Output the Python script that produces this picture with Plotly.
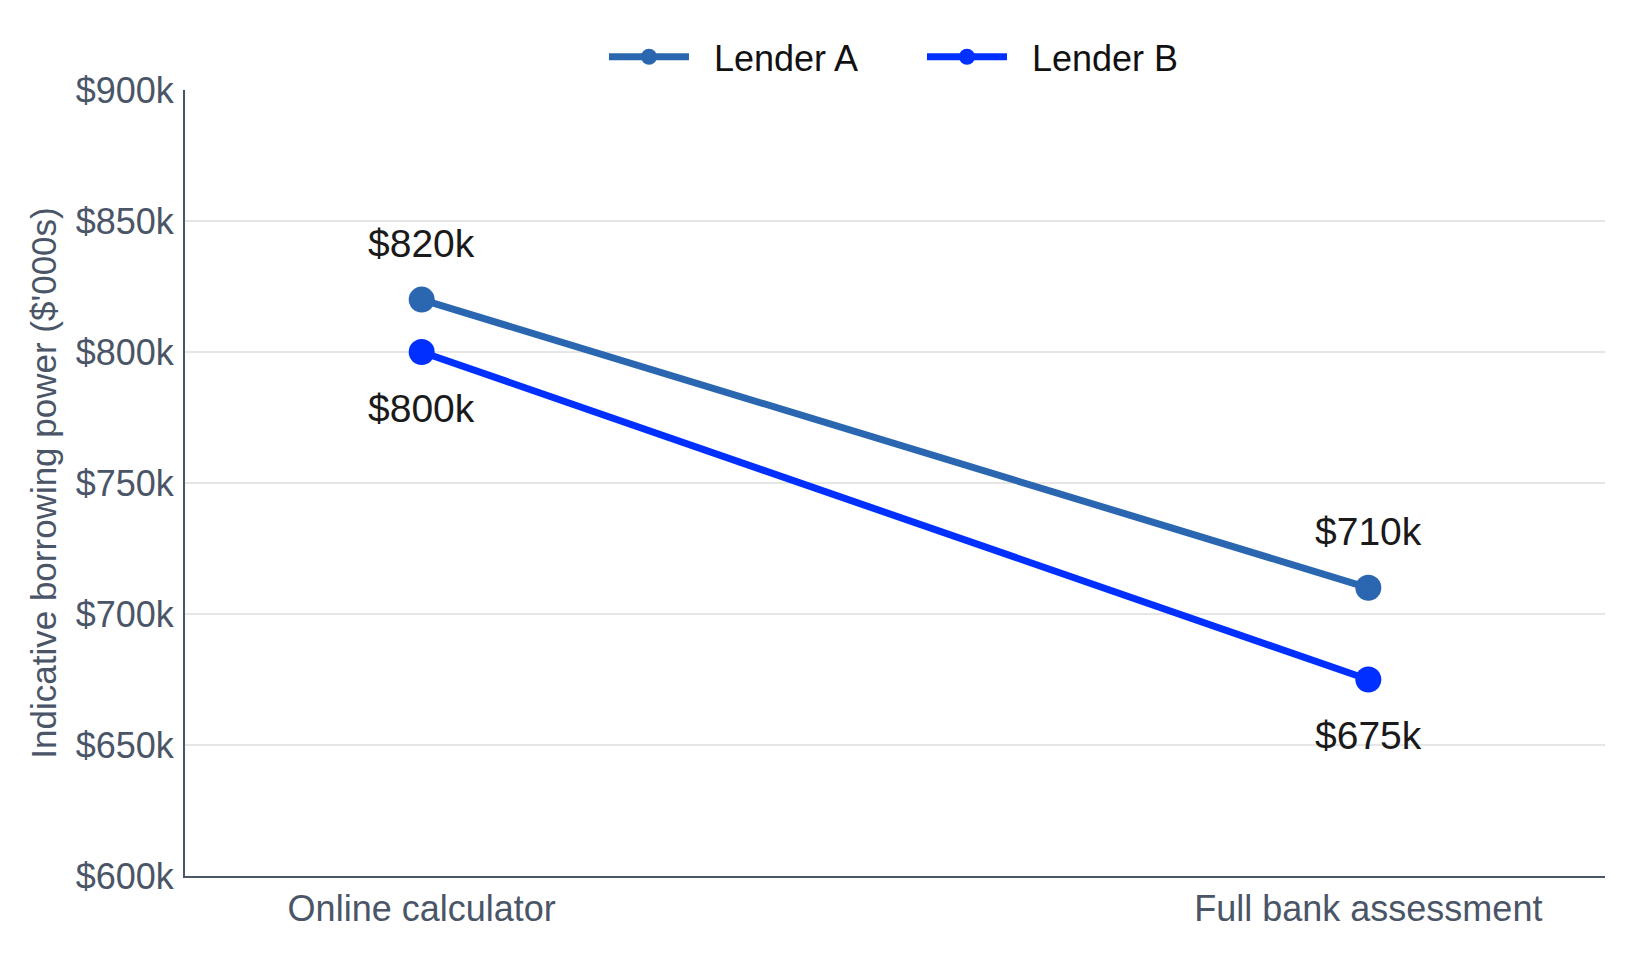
import plotly.graph_objects as go

categories = ["Online calculator", "Full bank assessment"]
lender_a = [820, 710]
lender_b = [800, 675]
series_names = ["Lender A", "Lender B"]
colors = ["#2b67b1", "#0030ff"]
y_ticks = [600, 650, 700, 750, 800, 850, 900]
y_ticktext = ["$" + str(v) + "k" for v in y_ticks]

FONT = "Liberation Sans, Arial, sans-serif"

fig = go.Figure()
annotations = []
for name, vals, col, shift in [
    (series_names[0], lender_a, colors[0], 56),
    (series_names[1], lender_b, colors[1], -56),
]:
    fig.add_trace(go.Scatter(
        x=categories, y=vals, name="\u00a0\u00a0" + name, mode="lines+markers",
        line=dict(color=col, width=7),
        marker=dict(color=col, size=26),
        cliponaxis=False,
    ))
    for c, v in zip(categories, vals):
        annotations.append(dict(
            x=c, y=v, xref="x", yref="y", text="$" + str(v) + "k",
            showarrow=False, yshift=shift, yanchor="middle", xanchor="center",
            font=dict(family=FONT, size=39, color="#1a1a1a"),
        ))

fig.update_layout(
    width=1651, height=963,
    paper_bgcolor="white", plot_bgcolor="white",
    margin=dict(l=185, r=46, t=90, b=87),
    font=dict(family=FONT, size=36, color="#4a5568"),
    annotations=annotations,
    legend=dict(orientation="h", x=0.519, xanchor="center", y=1.004, yanchor="bottom",
                font=dict(family=FONT, size=36, color="#111111"),
                itemwidth=80, entrywidth=223),
    xaxis=dict(
        type="category", range=[-0.25, 1.25],
        showline=True, linecolor="#4a5568", linewidth=2,
        showgrid=False, ticks="",
        tickfont=dict(family=FONT, size=36, color="#4a5568"),
    ),
    yaxis=dict(
        range=[600, 900], tickvals=y_ticks, ticktext=y_ticktext,
        showline=True, linecolor="#4a5568", linewidth=2,
        showgrid=True, gridcolor="#e6e6e6", gridwidth=2,
        ticks="", ticklabelstandoff=2, zeroline=False,
        tickfont=dict(family=FONT, size=36, color="#4a5568"),
        title=dict(text="Indicative borrowing power ($'000s)",
                   font=dict(family=FONT, size=35, color="#4a5568"), standoff=8),
    ),
)

fig.write_html("out.html")
